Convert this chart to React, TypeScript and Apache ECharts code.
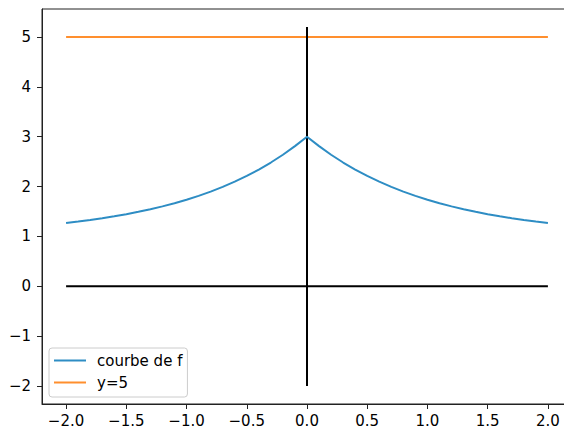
import React, { useEffect, useRef } from "react";
import * as echarts from "echarts";

const xValues = [
  -2.0, -1.9, -1.8, -1.7, -1.6, -1.5, -1.4, -1.3, -1.2, -1.1, -1.0,
  -0.9, -0.8, -0.7, -0.6, -0.5, -0.4, -0.3, -0.2, -0.1, 0.0,
  0.1, 0.2, 0.3, 0.4, 0.5, 0.6, 0.7, 0.8, 0.9, 1.0,
  1.1, 1.2, 1.3, 1.4, 1.5, 1.6, 1.7, 1.8, 1.9, 2.0,
];
const fValues = [
  1.271, 1.299, 1.331, 1.365, 1.404, 1.446, 1.493, 1.545, 1.602, 1.666, 1.736,
  1.813, 1.899, 1.993, 2.098, 2.213, 2.341, 2.482, 2.637, 2.810, 3.0,
  2.810, 2.637, 2.482, 2.341, 2.213, 2.098, 1.993, 1.899, 1.813, 1.736,
  1.666, 1.602, 1.545, 1.493, 1.446, 1.404, 1.365, 1.331, 1.299, 1.271,
];
const hLineX = [-2, 2];
const hLineY = [5, 5];
const xAxisLineX = [-2, 2];
const xAxisLineY = [0, 0];
const yAxisLineX = [0, 0];
const yAxisLineY = [-2, 5.2];

const xTickValues = [-2, -1.5, -1, -0.5, 0, 0.5, 1, 1.5, 2];
const xTickLabels = ["−2.0", "−1.5", "−1.0", "−0.5", "0.0", "0.5", "1.0", "1.5", "2.0"];
const yTickValues = [-2, -1, 0, 1, 2, 3, 4, 5];
const yTickLabels = ["−2", "−1", "0", "1", "2", "3", "4", "5"];

const FONT = "DejaVu Sans";
const FS = 15;

export default function App() {
  const ref = useRef<HTMLDivElement>(null);
  useEffect(() => {
    if (!ref.current) return;
    const chart = echarts.init(ref.current, undefined, { renderer: "svg" });
    const zip = (xs: number[], ys: number[]) => xs.map((x, i) => [x, ys[i]]);
    const labelFor = (vals: number[], labels: string[]) => (v: number) => {
      const i = vals.findIndex((t) => Math.abs(t - v) < 1e-9);
      return i >= 0 ? labels[i] : "";
    };
    chart.setOption({
      animation: false,
      backgroundColor: "#ffffff",
      textStyle: { fontFamily: FONT },
      grid: {
        left: 42,
        top: 9,
        width: 530,
        height: 395,
        show: true,
        borderColor: "#222",
        borderWidth: 1,
        backgroundColor: "transparent",
      },
      xAxis: {
        type: "value",
        min: -2.2,
        max: 2.2,
        splitLine: { show: false },
        axisLine: { show: true, onZero: false, lineStyle: { color: "#222", width: 1 } },
        axisTick: { show: true, length: 5, lineStyle: { color: "#222", width: 1 }, customValues: xTickValues },
        axisLabel: {
          customValues: xTickValues,
          formatter: labelFor(xTickValues, xTickLabels),
          fontFamily: FONT,
          fontSize: FS,
          color: "#000",
          margin: 9,
        },
      },
      yAxis: {
        type: "value",
        min: -2.36,
        max: 5.56,
        splitLine: { show: false },
        axisLine: { show: true, onZero: false, lineStyle: { color: "#222", width: 1 } },
        axisTick: { show: true, length: 5, lineStyle: { color: "#222", width: 1 }, customValues: yTickValues },
        axisLabel: {
          customValues: yTickValues,
          formatter: labelFor(yTickValues, yTickLabels),
          fontFamily: FONT,
          fontSize: FS,
          color: "#000",
          margin: 11,
        },
      },
      legend: {
        left: 49,
        top: 348,
        orient: "vertical",
        data: ["courbe de f", "y=5"],
        icon: "path://M0,0 L32,0 L32,2 L0,2 Z M37.99,0 L38,0 L38,2 L37.99,2 Z",
        itemWidth: 38,
        itemHeight: 2,
        itemGap: 7,
        padding: [5, 5, 7, 5],
        backgroundColor: "rgba(255,255,255,0.8)",
        borderColor: "#cccccc",
        borderWidth: 1,
        borderRadius: 3,
        formatter: (name: string) => "{t|" + name + "}",
        textStyle: {
          fontFamily: FONT,
          fontSize: FS,
          color: "#000",
          rich: { t: { fontFamily: FONT, fontSize: FS, color: "#000", width: 86, height: 15 } },
        },
      },
      series: [
        {
          name: "y=5",
          type: "line",
          data: zip(hLineX, hLineY),
          showSymbol: false,
          lineStyle: { color: "#ff8f2e", width: 2 },
          itemStyle: { color: "#ff8f2e" },
          z: 2,
        },
        {
          name: "vline",
          type: "line",
          data: zip(yAxisLineX, yAxisLineY),
          showSymbol: false,
          lineStyle: { color: "#000", width: 2 },
          itemStyle: { color: "#000" },
          z: 3,
        },
        {
          name: "hline",
          type: "line",
          data: zip(xAxisLineX, xAxisLineY),
          showSymbol: false,
          lineStyle: { color: "#000", width: 2 },
          itemStyle: { color: "#000" },
          z: 3,
        },
        {
          name: "courbe de f",
          type: "line",
          data: zip(xValues, fValues),
          showSymbol: false,
          lineStyle: { color: "#2e8dc4", width: 2 },
          itemStyle: { color: "#2e8dc4" },
          z: 4,
        },
      ],
    });
    return () => chart.dispose();
  }, []);
  return (
    <div style={{ position: "fixed", left: 0, top: 0, width: 564, height: 430, overflow: "hidden", background: "#fff" }}>
      <div ref={ref} style={{ width: 600, height: 430 }} />
    </div>
  );
}
